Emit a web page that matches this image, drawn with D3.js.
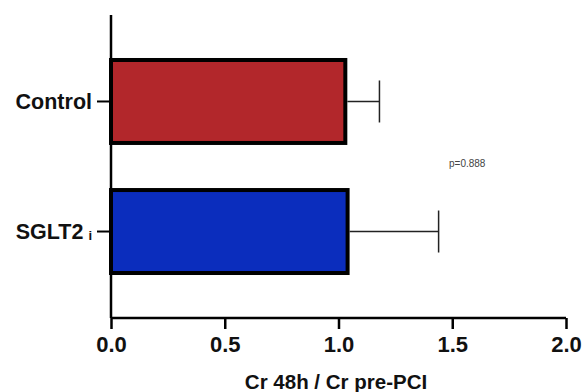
<!DOCTYPE html>
<html>
<head>
<meta charset="utf-8">
<script src="https://cdn.jsdelivr.net/npm/d3@7"></script>
<style>
  body { margin: 0; background: #fff; }
  svg text { font-family: "Liberation Sans", Arial, sans-serif; }
</style>
</head>
<body>
<svg id="chart"></svg>
<script>
var groups = ["Control", "SGLT2i"];
var means = [1.03, 1.04];
var errors = [0.15, 0.40];
var barColors = ["#b2272b", "#0b2dbd"];
var xTicks = [0, 0.5, 1.0, 1.5, 2.0];
var pText = "p=0.888";
var xTitle = "Cr 48h / Cr pre-PCI";

var width = 585, height = 392;
var svg = d3.select("#chart").attr("width", width).attr("height", height);

// 축 범위
var x = d3.scaleLinear().domain([0, 2]).range([111, 566]);
var y = d3.scaleBand().domain(groups).range([15, 318]).paddingInner(0.362).paddingOuter(0.346);

// bars
svg.selectAll("rect.bar")
  .data(groups)
  .enter().append("rect")
    .attr("class", "bar")
    .attr("x", x(0))
    .attr("y", function(d) { return y(d); })
    .attr("width", function(d, i) { return x(means[i]) - x(0); })
    .attr("height", y.bandwidth())
    .style("fill", function(d, i) { return barColors[i]; })
    .style("stroke", "#000")
    .style("stroke-width", "4px");

// 오차막대
var eb = svg.selectAll("g.err")
  .data(groups)
  .enter().append("g")
    .attr("class", "err");
eb.append("line")
  .attr("x1", function(d, i) { return x(means[i]) + 2; })
  .attr("x2", function(d, i) { return x(means[i] + errors[i]); })
  .attr("y1", function(d) { return y(d) + y.bandwidth() / 2; })
  .attr("y2", function(d) { return y(d) + y.bandwidth() / 2; })
  .style("stroke", "#222").style("stroke-width", "1.5px");
eb.append("line")
  .attr("x1", function(d, i) { return x(means[i] + errors[i]); })
  .attr("x2", function(d, i) { return x(means[i] + errors[i]); })
  .attr("y1", function(d) { return y(d) + y.bandwidth() / 2 - 21; })
  .attr("y2", function(d) { return y(d) + y.bandwidth() / 2 + 21; })
  .style("stroke", "#222").style("stroke-width", "1.5px");

// x축
var xAxis = d3.axisBottom(x)
  .tickValues(xTicks)
  .tickSize(11)
  .tickPadding(7)
  .tickFormat(d3.format(".1f"));
var gx = svg.append("g")
  .attr("transform", "translate(0,318)")
  .call(xAxis);
gx.select(".domain").attr("d", "M" + x(0) + ",0H" + x(2)).style("stroke", "#000").style("stroke-width", "2.5px");
gx.selectAll(".tick line").style("stroke", "#000").style("stroke-width", "2.5px");
gx.selectAll(".tick text")
  .style("font-size", "22px")
  .style("font-weight", "bold")
  .style("fill", "#111");

// y축
var yAxis = d3.axisLeft(y).tickSize(14).tickFormat("");
var gy = svg.append("g")
  .attr("transform", "translate(" + x(0) + ",0)")
  .call(yAxis);
gy.select(".domain").attr("d", "M0,15V318").style("stroke", "#000").style("stroke-width", "2.5px");
gy.selectAll(".tick line").style("stroke", "#000").style("stroke-width", "2px");
gy.selectAll(".tick").append("text")
  .attr("x", -19)
  .attr("y", 7.5)
  .attr("text-anchor", "end")
  .style("font-size", "21.5px")
  .style("font-weight", "bold")
  .style("fill", "#111")
  .each(function(d) {
    var t = d3.select(this);
    if (d === "SGLT2i") {
      t.append("tspan").text("SGLT2");
      t.append("tspan").attr("dx", 5).attr("dy", 1).style("font-size", "13px").text("i");
    } else {
      t.text(d);
    }
  });

// p값
svg.append("text")
  .attr("x", 449)
  .attr("y", 167)
  .style("font-size", "10px")
  .style("fill", "#444")
  .text(pText);

// x축 제목
svg.append("text")
  .attr("x", 336)
  .attr("y", 389)
  .attr("text-anchor", "middle")
  .style("font-size", "20.5px")
  .style("font-weight", "bold")
  .style("fill", "#111")
  .text(xTitle);
</script>
</body>
</html>
